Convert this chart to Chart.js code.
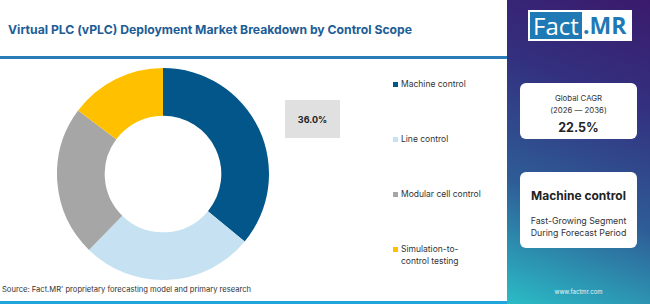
<!DOCTYPE html>
<html>
<head>
<meta charset="utf-8">
<script src="https://cdn.jsdelivr.net/npm/chart.js@4.4.1/dist/chart.umd.min.js"></script>
<style>
  html, body { margin: 0; padding: 0; }
  body { width: 650px; height: 304px; position: relative; overflow: hidden; background: #fff; font-family: Inter, "Open Sans", sans-serif; }
  .title { position: absolute; left: 8px; top: 22px; font-size: 12.2px; font-weight: 700; color: #1d5d96; white-space: nowrap; }
  .rule { position: absolute; left: 0; top: 56px; width: 507px; height: 3px; background: #2b7bb9; }
  .bottom { position: absolute; left: 0; top: 301px; width: 507px; height: 3px; background: #1ea6dc; }
  .chartBox { position: absolute; left: 57px; top: 68px; width: 212px; height: 212px; }
  .valBox { position: absolute; left: 285px; top: 100px; width: 55px; height: 38px; background: #e0e0e0; font-size: 9px; font-weight: 700; color: #222; display: flex; align-items: center; justify-content: center; }
  .legend { position: absolute; left: 393px; top: 0; font-size: 8.5px; color: #333; }
  .legend div { position: absolute; white-space: nowrap; line-height: 12px; }
  .legend span { position: absolute; left: 0; top: 3.5px; width: 5px; height: 5px; }
  .legend p { margin: 0 0 0 8px; }
  .source { position: absolute; left: 2px; top: 285px; font-size: 7.6px; color: #333; white-space: nowrap; }
  .side { position: absolute; left: 507px; top: 0; width: 143px; height: 304px;
          background: linear-gradient(200deg, #3b1a6c 0%, #33307f 30%, #2e5d96 65%, #2bbcc6 100%); }
  .logo { position: absolute; left: 21px; top: 10px; width: 104px; height: 31px; background: #fff; }
  .logo .fact { position: absolute; left: 2px; top: 2px; width: 52px; height: 27px; background: #1f79b4; color: #fff; font-size: 24px; line-height: 27px; text-align: center; font-family: "Open Sans", sans-serif; }
  .logo .mr { position: absolute; left: 55px; top: 2px; height: 27px; color: #1f79b4; font-size: 23px; line-height: 27px; font-weight: 700; font-family: "Open Sans", sans-serif; }
  .card { position: absolute; left: 13px; width: 117px; background: #fff; border-radius: 6px; text-align: center; color: #222; }
  .c1 { top: 83px; height: 56px; }
  .c2 { top: 172px; height: 76px; }
  .small { font-size: 7.8px; line-height: 11.5px; color: #333; }
  .mid { font-size: 8.8px; line-height: 12px; color: #333; }
  .big { font-size: 12.5px; font-weight: 700; }
  .url { position: absolute; left: 0; width: 143px; top: 288px; text-align: center; font-size: 6px; color: #e8f4f8; }
</style>
</head>
<body>
<div class="title">Virtual PLC (vPLC) Deployment Market Breakdown by Control Scope</div>
<div class="rule"></div>
<div class="chartBox"><canvas id="donut"></canvas></div>
<div class="valBox" id="valBox"></div>
<div class="legend" id="legend"></div>
<div class="source">Source: Fact.MR' proprietary forecasting model and primary research</div>
<div class="bottom"></div>
<div class="side">
  <div class="logo"><div class="fact">Fact</div><div class="mr">.MR</div></div>
  <div class="card c1">
    <div class="small" style="padding-top:10px">Global CAGR</div>
    <div class="small">(2026 — 2036)</div>
    <div class="big" style="margin-top:4px">22.5%</div>
  </div>
  <div class="card c2">
    <div class="big" style="padding-top:16px;font-size:12px">Machine control</div>
    <div class="mid" style="margin-top:12px">Fast-Growing Segment</div>
    <div class="mid">During Forecast Period</div>
  </div>
  <div class="url">www.factmr.com</div>
</div>
<script>
const segments = ['Machine control', 'Line control', 'Modular cell control', 'Simulation-to-control testing'];
const legendLines = [['Machine control'], ['Line control'], ['Modular cell control'], ['Simulation-to-', 'control testing']];
const shares = [36.0, 26.3, 22.9, 14.8];
const colors = ['#03568a', '#c5e1f2', '#a6a6a6', '#ffc000'];
const legendTop = [78, 133, 188, 243];

document.getElementById('valBox').textContent = shares[0].toFixed(1) + '%';

const legendEl = document.getElementById('legend');
legendLines.forEach((lines, i) => {
    const item = document.createElement('div');
    item.style.top = legendTop[i] + 'px';
    item.innerHTML = '<span style="background:' + colors[i] + '"></span><p>' + lines.join('<br>') + '</p>';
    legendEl.appendChild(item);
});

new Chart(document.getElementById('donut'), {
    type: 'doughnut',
    data: {
        labels: segments,
        datasets: [
            {
                data: shares,
                backgroundColor: colors,
                borderWidth: 0,
            }
        ]
    },
    options: {
        responsive: true,
        maintainAspectRatio: false,
        animation: false,
        cutout: '55%',
        layout: { padding: 0 },
        plugins: {
            legend: { display: false },
            tooltip: { enabled: false }
        }
    }
});
</script>
</body>
</html>
